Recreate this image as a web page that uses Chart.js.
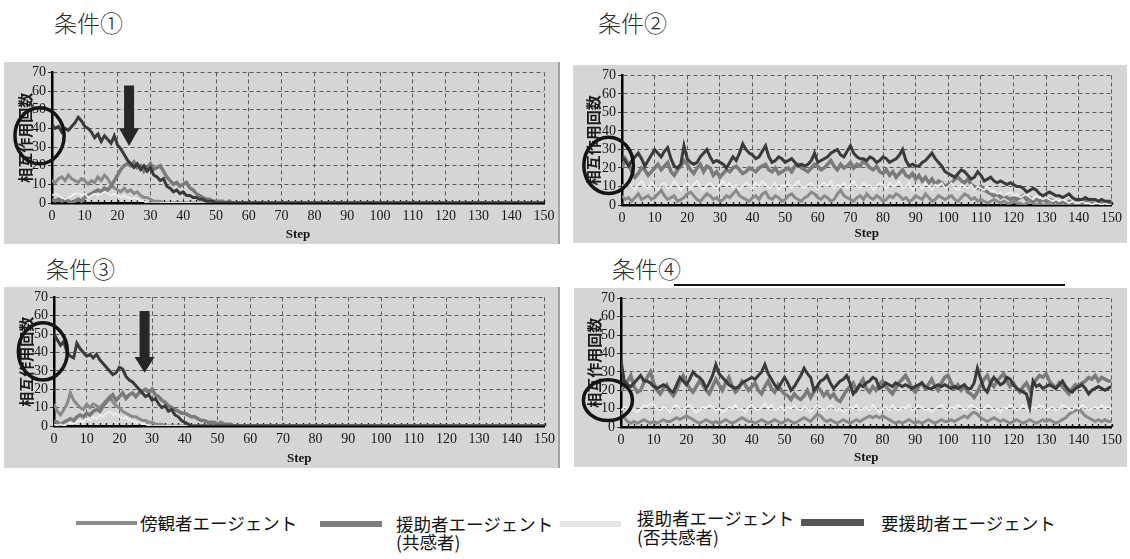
<!DOCTYPE html>
<html>
<head>
<meta charset="utf-8">
<script src="https://cdn.jsdelivr.net/npm/chart.js@4.4.1/dist/chart.umd.min.js"></script>
<style>
  html, body { margin: 0; padding: 0; }
  body { width: 1130px; height: 559px; background: #fff; position: relative; overflow: hidden;
         font-family: "Noto Sans CJK JP", sans-serif; }
  .panel { position: absolute;
           background: repeating-conic-gradient(#d1d1d1 0 25%, #dadada 0 50%) 0 0 / 2px 2px; }
  .panel.edge { box-shadow: inset -2px 0 0 #a2a2a2; }
  .panel canvas { position: absolute; left: 0; top: 0; }
  .cap { position: absolute; font-size: 23px; color: #2a2a2a; font-weight: 300; }
  .rule { position: absolute; height: 0; border-top: 2px solid #111; }
  .key { position: absolute; }
  .ktext { position: absolute; font-size: 17.5px; color: #111; line-height: 18px; white-space: nowrap; }
</style>
</head>
<body>

<div class="cap" style="left:54px; top:5px;">条件①</div>
<div class="cap" style="left:598px; top:5px;">条件②</div>
<div class="cap" style="left:46px; top:251px;">条件③</div>
<div class="cap" style="left:612px; top:251px;">条件④</div>
<div class="rule" style="left:674px; top:284px; width:391px;"></div>

<div class="panel edge" style="left:4px; top:62px; width:556px; height:182px;"><canvas id="c1" width="556" height="182"></canvas></div>
<div class="panel" style="left:573px; top:65px; width:554px; height:178px;"><canvas id="c2" width="554" height="178"></canvas></div>
<div class="panel edge" style="left:4px; top:287px; width:556px; height:181px;"><canvas id="c3" width="556" height="181"></canvas></div>
<div class="panel" style="left:574px; top:288px; width:553px; height:179px;"><canvas id="c4" width="553" height="179"></canvas></div>

<!-- figure legend -->
<div class="key" style="left:76px; top:521px; width:61px; height:4px; background:#8c8c8c;"></div>
<div class="ktext" style="left:140px; top:514px;">傍観者エージェント</div>
<div class="key" style="left:320px; top:521px; width:62px; height:6px; background:#7e7e7e;"></div>
<div class="ktext" style="left:396px; top:515px;">援助者エージェント</div>
<div class="ktext" style="left:396px; top:533px;">(共感者)</div>
<div class="key" style="left:560px; top:521px; width:61px; height:6px; background:#e6e6e6;"></div>
<div class="ktext" style="left:637px; top:509px;">援助者エージェント</div>
<div class="ktext" style="left:637px; top:528px;">(否共感者)</div>
<div class="key" style="left:801px; top:519px; width:63px; height:7px; background:#555;"></div>
<div class="ktext" style="left:881px; top:514px;">要援助者エージェント</div>

<script>
// Axis ticks
const xTicks = [0, 10, 20, 30, 40, 50, 60, 70, 80, 90, 100, 110, 120, 130, 140, 150];
const yTicks = [0, 10, 20, 30, 40, 50, 60, 70];

// Agent groups (one line per group)
const groupNames = ['要援助者エージェント', '傍観者エージェント', '援助者エージェント(共感者)', '援助者エージェント(否共感者)'];

// ---- 条件① : interactions per step (index = step) ----
const c1Needy = [
  42,40,41,38,40,39,41,43,46,44, 41,40,38,35,37,33,36,34,32,36,
  31,29,26,23,21,19,21,18,20,17, 19,15,14,12,13,9,8,6,7,5,
  6,4,4,3,3,2,2,1,1,1, 0,0,0,0,0,0,0,0,0,0,
  0,0,0,0,0,0,0,0,0,0, 0,0,0,0,0,0,0,0,0,0,
  0,0,0,0,0,0,0,0,0,0, 0,0,0,0,0,0,0,0,0,0,
  0,0,0,0,0,0,0,0,0,0, 0,0,0,0,0,0,0,0,0,0,
  0,0,0,0,0,0,0,0,0,0, 0,0,0,0,0,0,0,0,0,0,
  0,0,0,0,0,0,0,0,0,0, 0
];
const c1Bystander = [
  12,11,13,14,12,15,13,12,11,13, 12,10,12,11,14,12,15,13,10,8,
  7,6,8,6,7,5,6,4,3,3, 2,1,1,1,0,0,0,0,0,0,
  0,0,0,0,0,0,0,0,0,0, 0,0,0,0,0,0,0,0,0,0,
  0,0,0,0,0,0,0,0,0,0, 0,0,0,0,0,0,0,0,0,0,
  0,0,0,0,0,0,0,0,0,0, 0,0,0,0,0,0,0,0,0,0,
  0,0,0,0,0,0,0,0,0,0, 0,0,0,0,0,0,0,0,0,0,
  0,0,0,0,0,0,0,0,0,0, 0,0,0,0,0,0,0,0,0,0,
  0,0,0,0,0,0,0,0,0,0, 0
];
const c1Empathic = [
  2,1,2,1,2,1,0,1,2,1, 3,4,5,6,7,6,8,7,9,12,
  15,18,20,21,20,22,19,20,17,19, 21,18,19,20,17,14,12,10,11,9,
  10,11,8,7,5,4,3,2,2,1, 1,1,1,0,1,0,0,0,0,0,
  0,0,0,0,0,0,0,0,0,0, 0,0,0,0,0,0,0,0,0,0,
  0,0,0,0,0,0,0,0,0,0, 0,0,0,0,0,0,0,0,0,0,
  0,0,0,0,0,0,0,0,0,0, 0,0,0,0,0,0,0,0,0,0,
  0,0,0,0,0,0,0,0,0,0, 0,0,0,0,0,0,0,0,0,0,
  0,0,0,0,0,0,0,0,0,0, 0
];
const c1NonEmpathic = [
  4,5,4,3,2,3,4,5,5,4, 5,3,4,5,4,5,6,5,4,5,
  4,3,4,3,2,3,2,1,1,0, 0,0,0,0,0,0,0,0,0,0,
  0,0,0,0,0,0,0,0,0,0, 0,0,0,0,0,0,0,0,0,0,
  0,0,0,0,0,0,0,0,0,0, 0,0,0,0,0,0,0,0,0,0,
  0,0,0,0,0,0,0,0,0,0, 0,0,0,0,0,0,0,0,0,0,
  0,0,0,0,0,0,0,0,0,0, 0,0,0,0,0,0,0,0,0,0,
  0,0,0,0,0,0,0,0,0,0, 0,0,0,0,0,0,0,0,0,0,
  0,0,0,0,0,0,0,0,0,0, 0
];

// ---- 条件② ----
const c2Needy = [
  26,24,21,24,26,28,25,21,24,27, 30,28,26,29,31,25,21,20,22,32,
  25,23,22,23,26,28,30,26,23,24, 23,22,20,23,26,24,28,33,30,28,
  27,25,26,29,32,26,23,24,26,25, 23,24,25,23,21,22,21,22,24,28,
  23,24,25,26,28,29,30,27,26,29, 32,28,26,25,25,24,26,25,23,24,
  26,25,23,24,25,27,30,24,21,22, 21,21,23,24,26,28,25,23,21,18,
  17,16,15,17,19,18,16,14,15,18, 16,13,14,15,13,12,13,12,11,12,
  11,10,10,9,7,8,9,8,6,5, 6,7,6,5,5,4,5,6,4,3,
  3,3,4,3,3,3,2,3,2,2, 2
];
const c2Bystander = [
  5,3,4,2,4,6,3,4,5,3, 4,6,8,5,3,4,5,2,3,4,
  6,7,5,3,2,4,6,5,3,4, 2,3,5,4,6,8,5,4,3,2,
  4,5,3,6,7,4,3,5,4,2, 3,5,6,4,3,2,4,5,7,6,
  4,3,5,4,2,3,6,8,5,4, 3,2,4,5,3,6,4,3,5,4,
  2,3,5,4,6,5,3,4,2,3, 5,4,3,6,4,2,3,5,4,3,
  4,5,3,2,4,6,5,3,4,2, 3,2,1,2,3,2,1,2,1,1,
  2,1,1,0,1,2,1,0,1,0, 0,1,0,0,1,0,0,0,0,0,
  0,0,0,0,0,0,0,0,0,0, 0
];
const c2Empathic = [
  20,25,22,18,15,17,20,19,16,18, 20,22,19,21,23,18,16,19,21,24,
  22,19,17,20,22,18,21,20,16,18, 15,17,19,18,20,21,19,17,18,20,
  19,18,20,21,22,19,18,20,17,18, 19,20,18,21,22,20,19,18,20,22,
  21,19,20,22,24,21,19,22,20,21, 23,20,22,21,24,22,20,19,21,18,
  17,19,16,18,15,17,19,16,15,17, 14,16,13,15,12,14,11,13,12,10,
  11,12,14,15,13,12,14,11,10,9, 10,8,7,6,5,6,4,5,4,3,
  4,3,4,5,3,4,2,3,2,3, 2,3,2,2,1,2,1,2,1,1,
  1,1,2,1,1,1,0,1,1,1, 1
];
const c2NonEmpathic = [
  11,9,12,10,8,11,13,10,9,12, 10,8,11,12,9,10,13,11,8,10,
  12,9,11,13,10,8,11,12,10,9, 11,13,10,12,9,11,8,10,12,11,
  9,12,10,13,11,9,10,12,8,11, 10,12,9,11,13,10,9,11,12,10,
  8,11,12,10,13,9,11,10,12,9, 11,13,10,9,12,10,11,8,10,12,
  11,9,12,10,11,13,9,10,12,8, 10,11,9,12,10,8,11,10,12,9,
  10,12,9,8,11,10,9,11,8,10, 9,8,10,7,8,6,7,5,6,7,
  5,6,4,5,6,4,3,5,4,3, 4,3,2,3,2,3,2,1,2,1,
  1,2,1,1,0,1,1,0,1,0, 0
];

// ---- 条件③ ----
const c3Needy = [
  50,47,44,46,40,38,37,45,42,40, 38,39,37,39,36,34,32,30,28,29,
  32,31,27,25,24,22,20,18,16,17, 14,15,12,10,11,8,9,6,5,3,
  2,1,0,0,0,0,0,0,0,0, 0,0,0,0,0,0,0,0,0,0,
  0,0,0,0,0,0,0,0,0,0, 0,0,0,0,0,0,0,0,0,0,
  0,0,0,0,0,0,0,0,0,0, 0,0,0,0,0,0,0,0,0,0,
  0,0,0,0,0,0,0,0,0,0, 0,0,0,0,0,0,0,0,0,0,
  0,0,0,0,0,0,0,0,0,0, 0,0,0,0,0,0,0,0,0,0,
  0,0,0,0,0,0,0,0,0,0, 0
];
const c3Bystander = [
  12,8,6,9,12,18,14,12,10,9, 12,10,12,11,10,12,14,16,13,11,
  10,8,7,6,5,5,4,3,3,2, 2,1,1,1,0,0,0,0,0,0,
  0,0,0,0,0,0,0,0,0,0, 0,0,0,0,0,0,0,0,0,0,
  0,0,0,0,0,0,0,0,0,0, 0,0,0,0,0,0,0,0,0,0,
  0,0,0,0,0,0,0,0,0,0, 0,0,0,0,0,0,0,0,0,0,
  0,0,0,0,0,0,0,0,0,0, 0,0,0,0,0,0,0,0,0,0,
  0,0,0,0,0,0,0,0,0,0, 0,0,0,0,0,0,0,0,0,0,
  0,0,0,0,0,0,0,0,0,0, 0
];
const c3Empathic = [
  3,2,1,2,3,4,3,5,6,5, 7,6,8,9,8,11,13,15,17,14,
  16,18,15,17,18,16,18,19,20,18, 20,17,16,14,13,11,10,9,8,7,
  7,6,5,5,4,3,3,2,2,2, 1,2,1,1,1,0,0,0,0,0,
  0,0,0,0,0,0,0,0,0,0, 0,0,0,0,0,0,0,0,0,0,
  0,0,0,0,0,0,0,0,0,0, 0,0,0,0,0,0,0,0,0,0,
  0,0,0,0,0,0,0,0,0,0, 0,0,0,0,0,0,0,0,0,0,
  0,0,0,0,0,0,0,0,0,0, 0,0,0,0,0,0,0,0,0,0,
  0,0,0,0,0,0,0,0,0,0, 0
];
const c3NonEmpathic = [
  1,0,1,0,1,2,1,2,3,2, 4,3,5,4,6,5,7,8,6,7,
  5,4,5,3,3,2,2,1,1,0, 0,0,0,0,0,0,0,0,0,0,
  0,0,0,0,0,0,0,0,0,0, 0,0,0,0,0,0,0,0,0,0,
  0,0,0,0,0,0,0,0,0,0, 0,0,0,0,0,0,0,0,0,0,
  0,0,0,0,0,0,0,0,0,0, 0,0,0,0,0,0,0,0,0,0,
  0,0,0,0,0,0,0,0,0,0, 0,0,0,0,0,0,0,0,0,0,
  0,0,0,0,0,0,0,0,0,0, 0,0,0,0,0,0,0,0,0,0,
  0,0,0,0,0,0,0,0,0,0, 0
];

// ---- 条件④ ----
const c4Needy = [
  36,25,23,22,24,26,28,25,25,24, 22,21,22,23,22,20,19,23,27,25,
  23,26,30,28,27,25,21,24,28,34, 29,27,25,23,22,21,22,24,25,26,
  27,26,28,30,34,29,26,23,21,24, 27,24,20,22,25,28,32,29,27,20,
  22,25,26,28,24,21,23,25,26,28, 24,18,20,23,22,24,25,27,26,21,
  22,24,23,22,24,23,22,23,22,21, 22,23,24,22,21,21,22,23,22,23,
  22,21,22,21,22,23,21,21,24,32, 26,21,19,24,27,25,23,24,27,26,
  23,21,20,19,18,11,25,22,23,21, 22,23,22,21,23,25,22,20,19,21,
  22,23,21,18,20,21,22,21,20,21, 22
];
const c4Bystander = [
  8,5,3,2,3,2,3,4,3,2, 3,2,3,4,3,3,4,5,4,5,
  6,5,4,3,2,3,4,3,2,3, 2,3,4,3,2,3,4,5,4,3,
  3,2,3,4,3,2,3,4,3,2, 3,4,3,2,3,4,5,4,3,5,
  7,6,4,3,4,3,2,3,4,3, 2,3,4,3,4,5,6,5,6,5,
  6,5,4,3,2,3,2,3,4,3, 2,3,2,3,4,3,2,3,4,3,
  3,4,3,4,5,6,5,7,8,7, 5,4,3,4,5,4,3,4,3,2,
  3,4,3,2,3,4,3,2,3,4, 3,4,3,2,3,4,5,7,8,9,
  10,8,6,5,4,3,4,3,4,3, 3
];
const c4Empathic = [
  20,22,25,28,22,19,20,24,27,30, 24,20,18,21,23,19,17,20,25,28,
  24,21,19,22,25,23,20,18,22,26, 23,20,24,27,22,19,21,25,23,20,
  22,24,20,18,22,25,21,19,23,20, 18,17,15,18,16,15,17,20,16,19,
  22,20,17,19,16,18,15,14,17,20, 22,24,20,23,26,21,19,22,20,23,
  25,22,20,18,21,24,26,28,25,21, 19,22,24,21,23,26,22,20,24,27,
  28,24,21,23,20,22,19,18,16,19, 23,26,28,24,22,25,27,29,25,22,
  24,21,19,22,24,20,23,26,28,27, 29,25,23,21,24,22,20,18,21,23,
  22,24,25,27,26,28,25,27,26,25, 25
];
const c4NonEmpathic = [
  9,11,10,12,9,8,10,12,11,13, 12,10,9,11,10,8,11,12,10,9,
  11,12,10,8,9,11,10,12,11,9, 10,8,9,11,10,12,9,10,8,11,
  12,10,9,11,13,10,12,9,10,11, 9,11,10,12,10,9,11,10,8,10,
  12,11,9,10,12,11,9,10,8,9, 11,10,12,9,10,11,9,12,10,8,
  10,11,9,12,10,9,11,10,12,9, 10,12,11,9,10,8,10,11,12,10,
  9,11,10,12,11,9,10,12,11,10, 9,10,12,11,9,10,8,11,10,12,
  11,9,10,12,10,9,11,10,12,11, 9,10,11,9,10,12,11,10,9,11,
  10,12,11,9,10,11,10,12,10,11, 10
];

// Line styles per group
const groupStyle = {
  needy:       { color: '#3a3a3a', width: 3 },
  bystander:   { color: '#8a8a8a', width: 3 },
  empathic:    { color: '#7a7a7a', width: 3.5 },
  nonEmpathic: { color: '#f1f1f1', width: 1.6 }
};

const tickFont = { family: '"Liberation Serif", serif', size: 14 };

// Circle and arrow drawn over a panel, placed in axis units
const decoPlugin = {
  id: 'deco',
  beforeDatasetsDraw(chart) {
    const { ctx, scales: { x, y } } = chart;
    const base = y.getPixelForValue(0);
    ctx.save();
    ctx.strokeStyle = '#1a1a1a';
    ctx.lineWidth = 1.4;
    for (let s = 0; s <= 150; s += 2) {
      const px = Math.round(x.getPixelForValue(s)) + 0.5;
      ctx.beginPath(); ctx.moveTo(px, base); ctx.lineTo(px, base - 3); ctx.stroke();
    }
    ctx.restore();
  },
  afterDatasetsDraw(chart, args, opts) {
    const { ctx, scales: { x, y } } = chart;
    ctx.save();
    if (opts.ring) {
      const r = opts.ring;
      const cx = x.getPixelForValue(r.step), cy = y.getPixelForValue(r.value);
      const rx = Math.abs(x.getPixelForValue(r.step + r.spanStep) - cx);
      const ry = Math.abs(y.getPixelForValue(r.value + r.spanValue) - cy);
      ctx.beginPath();
      ctx.ellipse(cx, cy, rx, ry, 0, 0, Math.PI * 2);
      ctx.lineWidth = 3.5; ctx.strokeStyle = '#141414'; ctx.stroke();
    }
    if (opts.arrow) {
      const a = opts.arrow;
      const ax = x.getPixelForValue(a.step);
      const yTop = y.getPixelForValue(a.from), yHead = y.getPixelForValue(a.head), yTip = y.getPixelForValue(a.to);
      ctx.beginPath();
      ctx.moveTo(ax - 5, yTop); ctx.lineTo(ax + 5, yTop); ctx.lineTo(ax + 5, yHead);
      ctx.lineTo(ax + 10, yHead); ctx.lineTo(ax, yTip); ctx.lineTo(ax - 10, yHead);
      ctx.lineTo(ax - 5, yHead); ctx.closePath();
      ctx.fillStyle = '#262626'; ctx.fill();
    }
    ctx.restore();
  }
};

function toPoints(arr) { return arr.map((v, i) => ({ x: i, y: v })); }

function makeLine(label, arr, style) {
  return { label, data: toPoints(arr), borderColor: style.color, borderWidth: style.width,
           pointRadius: 0, tension: 0, fill: false };
}

function buildPanel(id, frame, groups, deco) {
  new Chart(document.getElementById(id), {
    type: 'line',
    data: {
      datasets: [
        makeLine(groupNames[0], groups.needy, groupStyle.needy),
        makeLine(groupNames[3], groups.nonEmpathic, groupStyle.nonEmpathic),
        makeLine(groupNames[2], groups.empathic, groupStyle.empathic),
        makeLine(groupNames[1], groups.bystander, groupStyle.bystander)
      ]
    },
    plugins: [decoPlugin],
    options: {
      responsive: false, animation: false, devicePixelRatio: 1,
      layout: { padding: { top: frame.padTop, right: frame.padRight, left: 0, bottom: 0 } },
      plugins: { legend: { display: false }, tooltip: { enabled: false }, deco: deco },
      scales: {
        x: {
          type: 'linear', min: xTicks[0], max: xTicks[xTicks.length - 1],
          afterBuildTicks(s) { s.ticks = xTicks.map(v => ({ value: v })); },
          afterFit(s) { s.height = frame.xH; },
          ticks: { font: tickFont, color: '#151515', padding: 5, maxRotation: 0, autoSkip: false },
          grid: { color: '#5a5a5a', lineWidth: 1, drawTicks: false },
          border: { display: true, color: '#000', width: 2.5, dash: [4, 3] },
          title: { display: true, text: 'Step', color: '#151515',
                   font: { family: '"Liberation Serif", serif', size: 13, weight: 'bold' },
                   padding: { top: 0, bottom: 2 } }
        },
        y: {
          min: yTicks[0], max: yTicks[yTicks.length - 1],
          afterBuildTicks(s) { s.ticks = yTicks.map(v => ({ value: v })); },
          afterFit(s) { s.width = frame.yW; },
          ticks: { font: tickFont, color: '#151515', padding: 2, autoSkip: false },
          grid: { color: '#5a5a5a', lineWidth: 1, drawTicks: true, tickLength: 4, tickColor: '#333' },
          border: { display: true, color: '#000', width: 2.5, dash: [4, 3] },
          title: { display: true, text: '相互作用回数', color: '#1a1a1a',
                   font: { family: '"Noto Sans CJK JP", sans-serif', size: 15, weight: 'bold' },
                   padding: { top: frame.titleGap, bottom: 0 } }
        }
      }
    }
  });
}

buildPanel('c1', { yW: 48, xH: 41, padTop: 8, padRight: 16, titleGap: 12 },
  { needy: c1Needy, bystander: c1Bystander, empathic: c1Empathic, nonEmpathic: c1NonEmpathic },
  { ring: { step: -3.8, value: 36, spanStep: 7.5, spanValue: 15 },
    arrow: { step: 23.5, from: 63, head: 40, to: 30.5 } });

buildPanel('c2', { yW: 49, xH: 38, padTop: 6, padRight: 13, titleGap: 11 },
  { needy: c2Needy, bystander: c2Bystander, empathic: c2Empathic, nonEmpathic: c2NonEmpathic },
  { ring: { step: -4.1, value: 21.4, spanStep: 7.6, spanValue: 15.2 } });

buildPanel('c3', { yW: 50, xH: 42, padTop: 7, padRight: 15, titleGap: 13 },
  { needy: c3Needy, bystander: c3Bystander, empathic: c3Empathic, nonEmpathic: c3NonEmpathic },
  { ring: { step: -3.4, value: 40.6, spanStep: 7.5, spanValue: 15.6 },
    arrow: { step: 27.7, from: 62.6, head: 37.6, to: 29 } });

buildPanel('c4', { yW: 47, xH: 40, padTop: 7, padRight: 15, titleGap: 11 },
  { needy: c4Needy, bystander: c4Bystander, empathic: c4Empathic, nonEmpathic: c4NonEmpathic },
  { ring: { step: -4, value: 14.6, spanStep: 7.5, spanValue: 11.1 } });
</script>
</body>
</html>
